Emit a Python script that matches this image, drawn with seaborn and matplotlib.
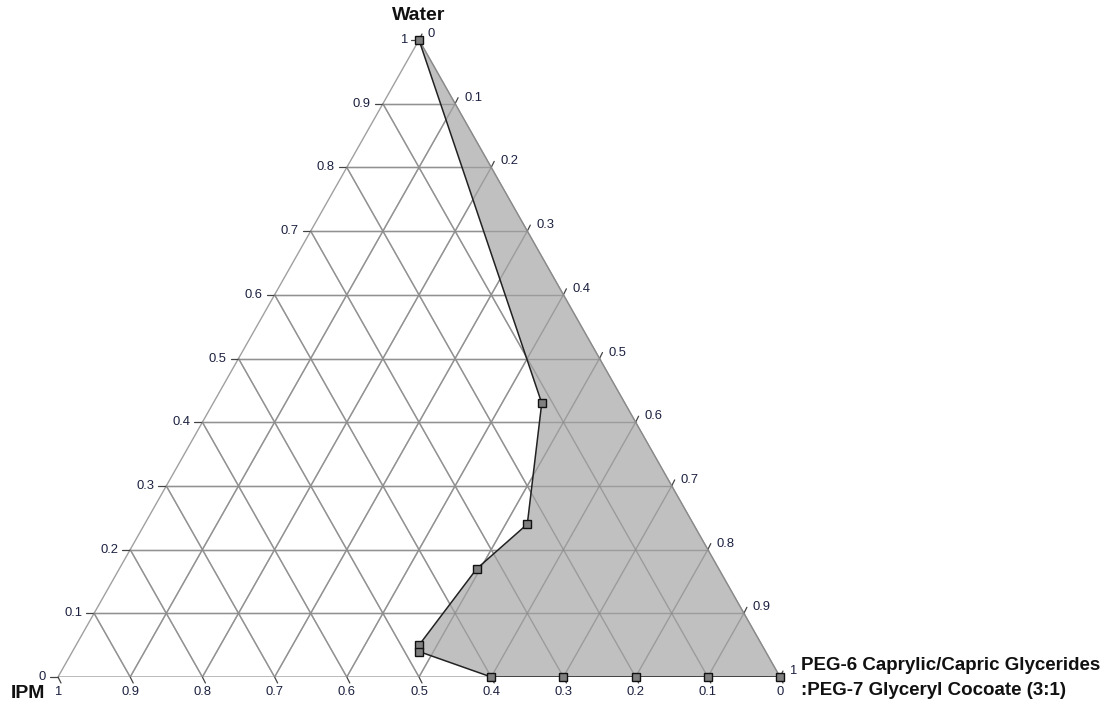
import numpy as np
import matplotlib
matplotlib.use("Agg")
import matplotlib.pyplot as plt
import seaborn as sns
import pandas as pd

sns.set_theme(style="white")
plt.rcParams['font.family'] = ['Liberation Sans', 'DejaVu Sans']

# Phase boundary points (fractions)
water = [1.0, 0.43, 0.24, 0.17, 0.05, 0.04, 0.0, 0.0, 0.0, 0.0, 0.0]
smix = [0.0, 0.455, 0.53, 0.495, 0.475, 0.48, 0.6, 0.7, 0.8, 0.9, 1.0]
ipm = [1 - w - s for w, s in zip(water, smix)]

levels = [round(0.1 * i, 1) for i in range(11)]
level_labels = ["0", "0.1", "0.2", "0.3", "0.4", "0.5", "0.6", "0.7", "0.8", "0.9", "1"]

axis_names = ["Water", "IPM", "PEG-6 Caprylic/Capric Glycerides\n:PEG-7 Glyceryl Cocoate (3:1)"]

GRID = "#a0a0a0"
TXT = "#1c2140"


def to_xy(w, s):
    # IPM at (0,0), Smix at (1,0), Water at (0.5,1)
    return s + 0.5 * w, w


fig = plt.figure(figsize=(11.1, 7.1), dpi=100)
W, H = 1110, 710
ax = fig.add_axes([58 / W, 33 / H, 722 / W, 637 / H])

# grid lines
for v in levels[1:-1]:
    for (a, b) in [((v, 0), (v, 1 - v)), ((0, v), (1 - v, v)), ((0, 1 - v), (1 - v, 0))]:
        x0, y0 = to_xy(*a)
        x1, y1 = to_xy(*b)
        ax.plot([x0, x1], [y0, y1], color=GRID, lw=1.0, zorder=1)

# triangle outline
tri = [to_xy(0, 0), to_xy(0, 1), to_xy(1, 0), to_xy(0, 0)]
ax.plot([p[0] for p in tri], [p[1] for p in tri], color=GRID, lw=1.0, zorder=1)

# shaded region: boundary then back along right edge
pts = [to_xy(w, s) for w, s in zip(water, smix)]
px = [p[0] for p in pts]
py = [p[1] for p in pts]
ax.fill(px, py, color="#c0c0c0", zorder=2, lw=0)
for v in levels[1:-1]:
    for (a, b) in [((v, 0), (v, 1 - v)), ((0, v), (1 - v, v)), ((0, 1 - v), (1 - v, 0))]:
        x0, y0 = to_xy(*a)
        x1, y1 = to_xy(*b)
        ax.plot([x0, x1], [y0, y1], color="#8c8c8c", lw=1.0, zorder=2.5, alpha=0.7)
ax.plot([to_xy(1, 0)[0], to_xy(0, 1)[0]], [to_xy(1, 0)[1], to_xy(0, 1)[1]],
        color="#8a8a8a", lw=1.0, zorder=2.5)

df = pd.DataFrame({"x": px, "y": py})
sns.lineplot(data=df, x="x", y="y", sort=False, estimator=None, color="#222222",
             lw=1.1, ax=ax, zorder=3, legend=False)
ax.plot(px, py, ls="none", marker="s", ms=5.8, mfc="#808080", mec="#111111", mew=1.0,
        zorder=4, clip_on=False)
ax.set_xlim(0, 1)
ax.set_ylim(0, 1)
ax.axis("off")

sx = 722.0
sy = 637.0
fs = 9.4

for v, lab in zip(levels, level_labels):
    # left edge: water
    x, y = to_xy(v, 0)
    ax.plot([x - 8 / sx, x], [y, y], color="#444444", lw=0.9, clip_on=False, zorder=1)
    ax.text(x - 12 / sx, y, lab, ha="right", va="center", fontsize=fs, color=TXT)
    # bottom edge: ipm (value v at position smix = 1 - v)
    x, y = to_xy(0, 1 - v)
    ax.plot([x, x + 3 / sx], [y, y - 6 / sy], color="#444444", lw=0.9, clip_on=False, zorder=1)
    ax.text(x, y - 15 / sy, lab, ha="center", va="center", fontsize=fs, color=TXT)
    # right edge: smix
    x, y = to_xy(1 - v, v)
    ax.plot([x, x + 3 / sx], [y, y + 6 / sy], color="#444444", lw=0.9, clip_on=False, zorder=1)
    ax.text(x + 9 / sx, y + 6 / sy, lab, ha="left", va="center", fontsize=fs, color=TXT)

ax.text(0.5, 1 + 24 / sy, axis_names[0], ha="center", va="center", fontsize=14,
        fontweight="bold", color="#111111")
ax.text(-30 / sx, -17 / sy, axis_names[1], ha="center", va="center", fontsize=14,
        fontweight="bold", color="#111111")
ax.text(1 + 21 / sx, -1 / sy, axis_names[2], ha="left", va="center", fontsize=13.5,
        fontweight="bold", color="#111111", linespacing=1.62)

fig.savefig("out.png", dpi=100, facecolor="white")
